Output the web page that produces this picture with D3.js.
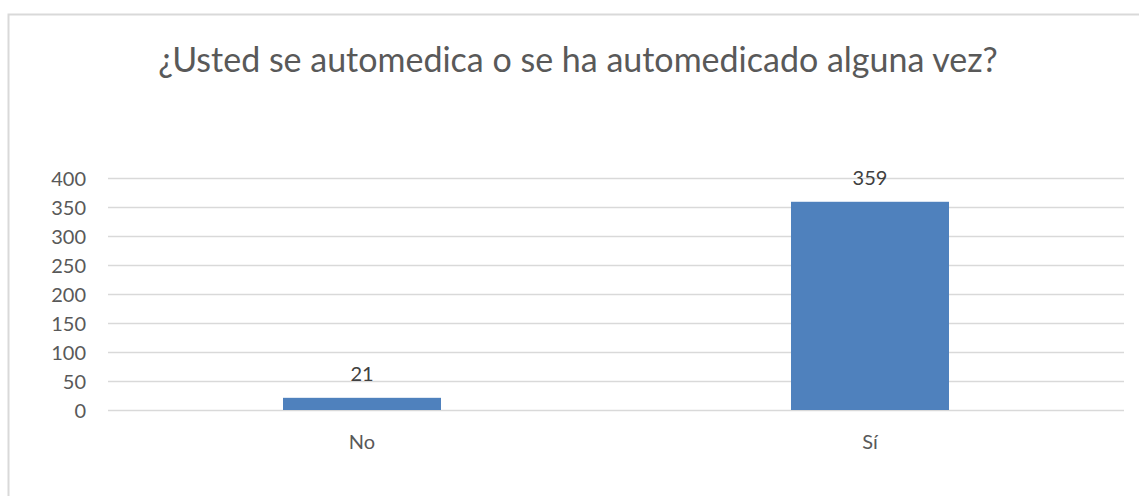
<!DOCTYPE html>
<html><head><meta charset="utf-8">
<script src="https://cdn.jsdelivr.net/npm/d3@7"></script>
<style>body{margin:0;background:#fff}svg{display:block}text{font-family:Lato,"Noto Sans",sans-serif}</style>
</head><body><svg id="c" width="1139" height="496"></svg>
<script>
const title = "¿Usted se automedica o se ha automedicado alguna vez?";
const categories = ["No", "Sí"];
const values = [21, 359];
const yTicks = [0, 50, 100, 150, 200, 250, 300, 350, 400];

const svg = d3.select("#c");
const m = {left:108, right:1124, top:178, bottom:410};

svg.append("rect").attr("x",8.5).attr("y",14.5).attr("width",1150).attr("height",500)
  .attr("fill","#fff").attr("stroke","#d9d9d9").attr("stroke-width",2);

svg.append("text").attr("x",578).attr("y",72).attr("text-anchor","middle")
  .attr("fill","#595959").attr("font-size",34).text(title);

const x = d3.scaleBand().domain(categories).range([m.left,m.right]).paddingInner(0.689).paddingOuter(0.3445);
const y = d3.scaleLinear().domain([0,400]).range([m.bottom,m.top]);

const grid = svg.append("g");
grid.selectAll("line").data(yTicks).join("line")
  .attr("x1",m.left).attr("x2",m.right)
  .attr("y1",d=>Math.round(y(d))+0.5).attr("y2",d=>Math.round(y(d))+0.5)
  .attr("stroke","#d9d9d9").attr("stroke-width",1.5);

const yAxis = d3.axisLeft(y).tickValues(yTicks).tickSize(0).tickPadding(0);
const ga = svg.append("g").attr("transform",`translate(86,0)`).call(yAxis);
ga.select(".domain").remove();
ga.selectAll("text").attr("fill","#595959").attr("font-size",20).attr("font-family","Lato").attr("dy","0.35em");

svg.append("g").selectAll("rect").data(values).join("rect")
  .attr("x",(d,i)=>x(categories[i])).attr("width",x.bandwidth())
  .attr("y",d=>y(d)).attr("height",d=>y(0)-y(d)).attr("fill","#4f81bd");

svg.append("g").selectAll("text").data(values).join("text")
  .attr("x",(d,i)=>x(categories[i])+x.bandwidth()/2).attr("y",d=>y(d)-17)
  .attr("text-anchor","middle").attr("fill","#404040").attr("font-size",20).text(d=>d);

const xAxis = d3.axisBottom(x).tickSize(0).tickPadding(0);
const gx = svg.append("g").attr("transform",`translate(0,${m.bottom})`).call(xAxis);
gx.select(".domain").remove();
gx.selectAll("text").attr("fill","#595959").attr("font-size",20).attr("font-family","Lato").attr("y",39).attr("dy",0);
</script></body></html>
